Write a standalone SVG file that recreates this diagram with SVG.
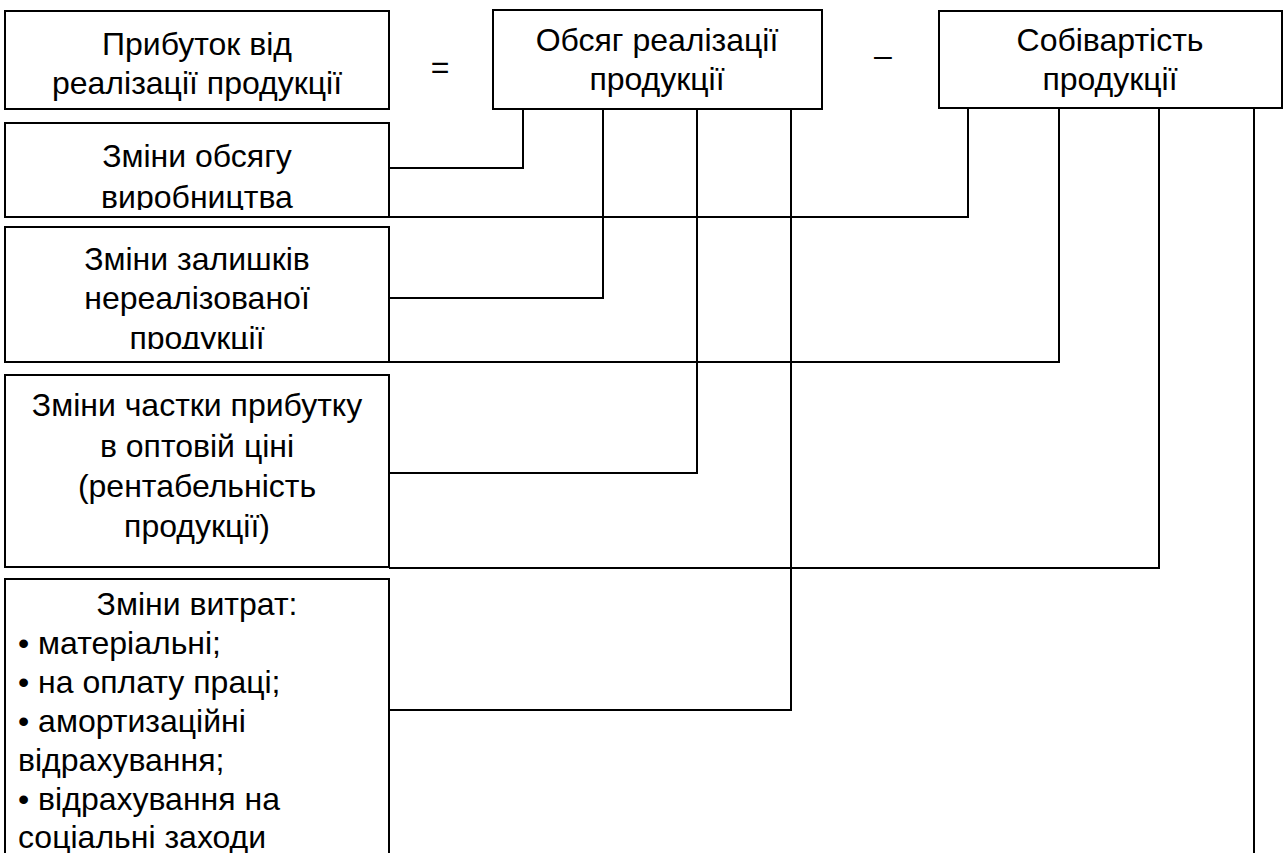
<svg xmlns="http://www.w3.org/2000/svg" width="1286" height="853" viewBox="0 0 1286 853">
<style>
  .box { fill: #fff; stroke: #000; stroke-width: 2; }
  .t { font-family: "Liberation Sans", Arial, sans-serif; font-size: 32px; fill: #000; }
  .c { text-anchor: middle; }
  .ln { fill: none; stroke: #000; stroke-width: 2; }
</style>
<defs>
  <clipPath id="clip2"><rect x="5" y="123" width="384" height="87"/></clipPath>
  <clipPath id="clip3"><rect x="5" y="227" width="384" height="122"/></clipPath>
</defs>
<rect width="1286" height="853" fill="#fff"/>

<g id="connectors">
  <polyline class="ln" points="389,168 523,168 523,109"/>
  <polyline class="ln" points="389,217 968,217 968,108"/>
  <polyline class="ln" points="389,298 603,298 603,109"/>
  <polyline class="ln" points="389,362 1059,362 1059,108"/>
  <polyline class="ln" points="389,473 697,473 697,109"/>
  <polyline class="ln" points="389,568 1159,568 1159,108"/>
  <polyline class="ln" points="389,710 791,710 791,109"/>
  <line class="ln" x1="1254" y1="108" x2="1254" y2="853"/>
</g>

<g id="profit">
  <rect class="box" x="5" y="11" width="384" height="98"/>
  <text class="t c" x="197" y="55">Прибуток від</text>
  <text class="t c" x="197" y="94">реалізації продукції</text>
</g>

<g id="eq">
  <text class="t c" x="440" y="78">=</text>
</g>

<g id="volume">
  <rect class="box" x="493" y="10" width="329" height="99"/>
  <text class="t c" x="657" y="51">Обсяг реалізації</text>
  <text class="t c" x="657" y="90">продукції</text>
</g>

<g id="minus">
  <text class="t c" x="883" y="66">–</text>
</g>

<g id="cost">
  <rect class="box" x="939" y="11" width="343" height="97"/>
  <text class="t c" x="1110" y="51">Собівартість</text>
  <text class="t c" x="1110" y="90">продукції</text>
</g>

<g id="change-volume">
  <rect class="box" x="5" y="123" width="384" height="94"/>
  <g clip-path="url(#clip2)">
    <text class="t c" x="197" y="167">Зміни обсягу</text>
    <text class="t c" x="197" y="208">виробництва</text>
  </g>
</g>

<g id="change-stock">
  <rect class="box" x="5" y="227" width="384" height="135"/>
  <g clip-path="url(#clip3)">
    <text class="t c" x="197" y="270">Зміни залишків</text>
    <text class="t c" x="197" y="309">нереалізованої</text>
    <text class="t c" x="197" y="349">продукції</text>
  </g>
</g>

<g id="change-share">
  <rect class="box" x="5" y="375" width="384" height="192"/>
  <text class="t c" x="197" y="416">Зміни частки прибутку</text>
  <text class="t c" x="197" y="457">в оптовій ціні</text>
  <text class="t c" x="197" y="497">(рентабельність</text>
  <text class="t c" x="197" y="537">продукції)</text>
</g>

<g id="change-costs">
  <rect class="box" x="5" y="579" width="384" height="290"/>
  <text class="t c" x="197" y="615">Зміни витрат:</text>
  <text class="t" x="18" y="654">• матеріальні;</text>
  <text class="t" x="18" y="693">• на оплату праці;</text>
  <text class="t" x="18" y="732">• амортизаційні</text>
  <text class="t" x="18" y="771">відрахування;</text>
  <text class="t" x="18" y="810">• відрахування на</text>
  <text class="t" x="18" y="848">соціальні заходи</text>
</g>
</svg>
